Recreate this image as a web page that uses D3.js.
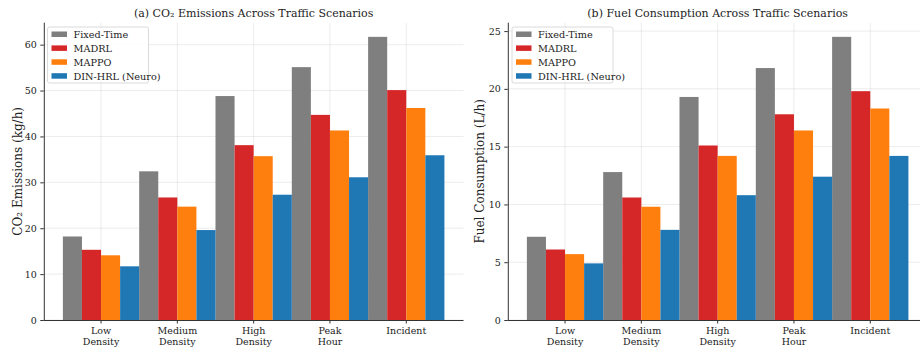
<!DOCTYPE html>
<html>
<head>
<meta charset="utf-8">
<script src="https://cdn.jsdelivr.net/npm/d3@7"></script>
<style>
  html, body { margin: 0; padding: 0; background: #fff; }
  svg { display: block; font-family: "DejaVu Serif", serif; }
</style>
</head>
<body>
<svg id="chart" width="920" height="351"></svg>
<script>
// Traffic scenarios (x categories), two-line tick labels
const scenarios = ["Low Density", "Medium Density", "High Density", "Peak Hour", "Incident"];
const scenarioLines = [["Low", "Density"], ["Medium", "Density"], ["High", "Density"], ["Peak", "Hour"], ["Incident"]];

// Controllers compared
const methods = ["Fixed-Time", "MADRL", "MAPPO", "DIN-HRL (Neuro)"];
const methodColors = ["#7f7f7f", "#d62728", "#ff7f0e", "#1f77b4"];

// CO2 emissions (kg/h) per method, one value per scenario
const co2FixedTime = [18.2, 32.4, 48.8, 55.1, 61.7];
const co2MADRL     = [15.3, 26.7, 38.1, 44.7, 50.1];
const co2MAPPO     = [14.1, 24.7, 35.7, 41.3, 46.2];
const co2DINHRL    = [11.7, 19.6, 27.3, 31.1, 35.9];

// Fuel consumption (L/h) per method, one value per scenario
const fuelFixedTime = [7.2, 12.8, 19.3, 21.8, 24.5];
const fuelMADRL     = [6.1, 10.6, 15.1, 17.8, 19.8];
const fuelMAPPO     = [5.7, 9.8, 14.2, 16.4, 18.3];
const fuelDINHRL    = [4.9, 7.8, 10.8, 12.4, 14.2];

// Tick values for each y axis
const co2Ticks = [0, 10, 20, 30, 40, 50, 60];
const fuelTicks = [0, 5, 10, 15, 20, 25];

const svg = d3.select("#chart");

function drawPanel(opts) {
  const { left, right, top, bottom, series, ticks, title, ylabel, ylabelX, legendX } = opts;
  const g = svg.append("g");

  const maxVal = d3.max(series, s => d3.max(s));
  const y = d3.scaleLinear().domain([0, maxVal * 1.05]).range([bottom, top]);
  const x = d3.scaleBand().domain(scenarios).range([left, right])
    .paddingInner(0).paddingOuter(0.25);
  const xs = d3.scaleBand().domain(methods).range([0, x.bandwidth()]).padding(0);

  // grid
  g.append("g").selectAll("line").data(ticks).join("line")
    .attr("x1", left).attr("x2", right)
    .attr("y1", d => y(d)).attr("y2", d => y(d))
    .attr("stroke", "#b0b0b0").attr("stroke-opacity", 0.3).attr("stroke-width", 0.8);
  g.append("g").selectAll("line").data(scenarios).join("line")
    .attr("x1", d => x(d) + x.bandwidth() / 2).attr("x2", d => x(d) + x.bandwidth() / 2)
    .attr("y1", top).attr("y2", bottom)
    .attr("stroke", "#b0b0b0").attr("stroke-opacity", 0.3).attr("stroke-width", 0.8);

  // bars
  methods.forEach((m, mi) => {
    g.append("g").selectAll("rect").data(series[mi]).join("rect")
      .attr("x", (d, i) => x(scenarios[i]) + xs(m))
      .attr("width", xs.bandwidth())
      .attr("y", d => y(d))
      .attr("height", d => y(0) - y(d))
      .attr("fill", methodColors[mi]);
  });

  // y axis
  const yAxis = g.append("g").attr("transform", `translate(${left},0)`)
    .call(d3.axisLeft(y).tickValues(ticks).tickSize(3.5).tickPadding(3.5).tickFormat(d3.format("d")));
  yAxis.select(".domain").attr("stroke", "#333").attr("stroke-width", 1)
    .attr("d", `M0.5,${bottom}V${top}`);
  yAxis.selectAll(".tick line").attr("stroke", "#333");
  yAxis.selectAll(".tick text").attr("font-family", "DejaVu Serif").attr("font-size", 9.5).attr("fill", "#222");

  // x axis
  const xAxis = g.append("g").attr("transform", `translate(0,${bottom})`)
    .call(d3.axisBottom(x).tickSize(3.5).tickPadding(3).tickFormat(() => ""));
  xAxis.select(".domain").attr("stroke", "#333").attr("stroke-width", 1)
    .attr("d", `M${left},0.5H${right}`);
  xAxis.selectAll(".tick line").attr("stroke", "#333");
  xAxis.selectAll(".tick").each(function (d, i) {
    const t = d3.select(this).select("text")
      .attr("font-family", "DejaVu Serif").attr("font-size", 9.5).attr("fill", "#222")
      .attr("y", 7.5).attr("dy", null);
    scenarioLines[i].forEach((line, li) => {
      t.append("tspan").attr("x", 0).attr("dy", li === 0 ? "0.71em" : "1.12em").text(line);
    });
  });

  // title
  g.append("text")
    .attr("x", (left + right) / 2).attr("y", 16.5)
    .attr("text-anchor", "middle").attr("font-size", 11).attr("fill", "#222")
    .text(title);

  // y label
  g.append("text")
    .attr("transform", `translate(${ylabelX},${(top + bottom) / 2}) rotate(-90)`)
    .attr("text-anchor", "middle").attr("font-size", 12).attr("fill", "#222")
    .text(ylabel);

  // legend
  const lg = g.append("g").attr("transform", `translate(${legendX},27)`);
  lg.append("rect").attr("x", 0).attr("y", 0).attr("width", 101).attr("height", 56)
    .attr("rx", 2).attr("fill", "#fff").attr("fill-opacity", 0.85)
    .attr("stroke", "#d0d0d0").attr("stroke-width", 0.8);
  methods.forEach((m, mi) => {
    const row = lg.append("g").attr("transform", `translate(4,${4.5 + mi * 13.9})`);
    row.append("rect").attr("width", 15.5).attr("height", 5.5).attr("fill", methodColors[mi]);
    row.append("text").attr("x", 22).attr("y", 3).attr("dy", "0.35em")
      .attr("font-size", 9.7).attr("fill", "#222").text(m);
  });
}

drawPanel({
  left: 43.8, right: 463.5, top: 22.7, bottom: 320,
  series: [co2FixedTime, co2MADRL, co2MAPPO, co2DINHRL],
  ticks: co2Ticks,
  title: "(a) CO₂ Emissions Across Traffic Scenarios",
  ylabel: "CO₂ Emissions (kg/h)",
  ylabelX: 22,
  legendX: 47.5
});

drawPanel({
  left: 507.8, right: 927.5, top: 22.7, bottom: 320,
  series: [fuelFixedTime, fuelMADRL, fuelMAPPO, fuelDINHRL],
  ticks: fuelTicks,
  title: "(b) Fuel Consumption Across Traffic Scenarios",
  ylabel: "Fuel Consumption (L/h)",
  ylabelX: 484,
  legendX: 512
});
</script>
</body>
</html>
